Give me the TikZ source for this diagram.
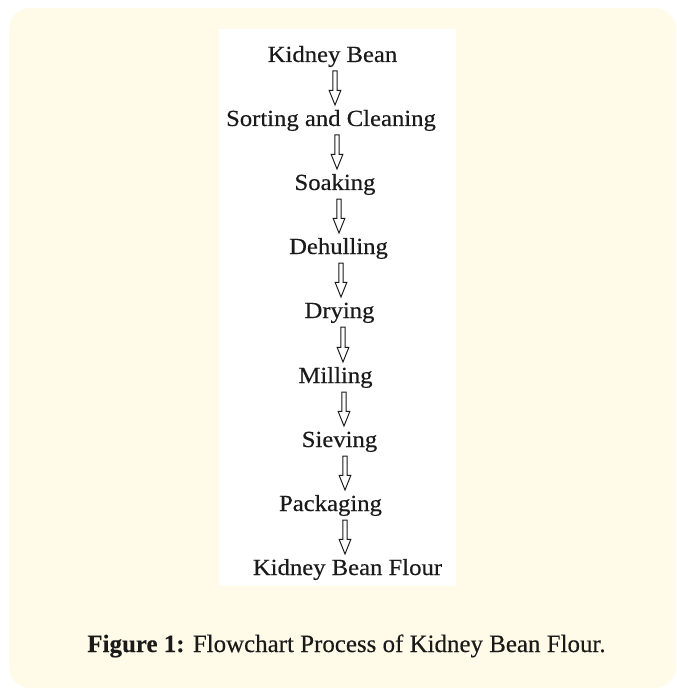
\documentclass[tikz,border=0pt]{standalone}
\usepackage{fontspec}
\setmainfont{Liberation Serif}[FakeStretch=1.07,FakeBold=0.4]
\newfontfamily\capfont{Liberation Serif}[FakeBold=0.3]
\usetikzlibrary{calc}
\definecolor{cream}{HTML}{FFFBE8}
\definecolor{ink}{HTML}{1A1A1A}
\newcommand\blockarrow[2]{%
  \draw[hollow] let \p1=(#1), \p2=(#2) in
    (\x1-1.6pt,\y1) -- (\x1+1.6pt,\y1) -- (\x1+1.6pt,\y2+11pt) --
    (\x1+4.4pt,\y2+11pt) -- (\x2,\y2) -- (\x1-4.4pt,\y2+11pt) --
    (\x1-1.6pt,\y2+11pt) -- cycle;}
\begin{document}
\begin{tikzpicture}[x=0.75pt,y=-0.75pt,
  steplabel/.style={anchor=base, inner sep=0pt, text=ink,
    font=\fontsize{17.3pt}{20pt}\selectfont},
  captionlabel/.style={anchor=base, inner sep=0pt, text=ink,
    font=\capfont\fontsize{18.7pt}{22pt}\selectfont},
  hollow/.style={draw=ink, line width=0.75pt, fill=white, line join=miter}]
\fill[white] (0,0) rectangle (677,688);
\useasboundingbox (0,0) rectangle (677,688);
\fill[cream, rounded corners=16pt] (9,8) rectangle (676,688);
\fill[white] (219,29) rectangle (456,586);

\node[steplabel] (n1) at (332.5,62) {Kidney Bean};
\node[steplabel] (n2) at (331,126) {Sorting and Cleaning};
\node[steplabel] (n3) at (335,190) {Soaking};
\node[steplabel] (n4) at (338.5,254) {Dehulling};
\node[steplabel] (n5) at (339.5,318) {Drying};
\node[steplabel] (n6) at (335.5,383) {Milling};
\node[steplabel] (n7) at (339.5,447) {Sieving};
\node[steplabel] (n8) at (330.5,511) {Packaging};
\node[steplabel] (n9) at (347.5,575) {Kidney Bean Flour};

\coordinate (a1s) at (335,71);  \coordinate (a1e) at (335,105);
\coordinate (a2s) at (337,135); \coordinate (a2e) at (337,169);
\coordinate (a3s) at (339,199); \coordinate (a3e) at (339,233);
\coordinate (a4s) at (341,263); \coordinate (a4e) at (341,297);
\coordinate (a5s) at (343,327); \coordinate (a5e) at (343,362);
\coordinate (a6s) at (344,392); \coordinate (a6e) at (344,426);
\coordinate (a7s) at (345,456); \coordinate (a7e) at (345,490);
\coordinate (a8s) at (345,520); \coordinate (a8e) at (345,554);
\foreach \i in {1,...,8} {\blockarrow{a\i s}{a\i e}}

\node[captionlabel] (cap) at (346.5,652) {\textbf{Figure 1:} Flowchart Process of Kidney Bean Flour.};
\end{tikzpicture}
\end{document}
